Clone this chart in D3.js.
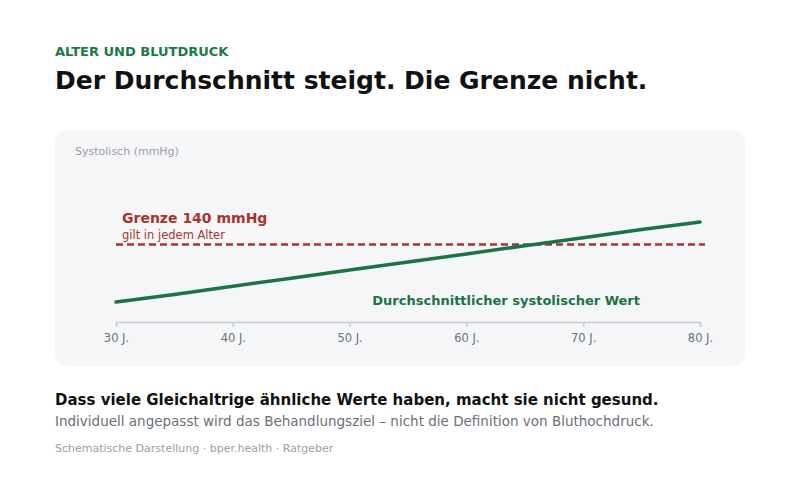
<!DOCTYPE html>
<html>
<head>
<meta charset="utf-8">
<script src="https://cdn.jsdelivr.net/npm/d3@7"></script>
<style>
  body { margin: 0; background: #fff; }
  svg { font-family: "DejaVu Sans", sans-serif; }
</style>
</head>
<body>
<div id="chart"></div>
<script>
// ages (years) and average systolic pressure (mmHg)
const ages = [30, 35, 40, 45, 50, 55, 60, 65, 70, 75, 80];
const systolic = [117, 120, 123.3, 126.5, 129.8, 133, 136.2, 139.5, 142.7, 146, 149];
const tickAges = [30, 40, 50, 60, 70, 80];
const limit = 140;

const W = 800, H = 500;
const svg = d3.select("#chart").append("svg")
    .attr("width", W)
    .attr("height", H);

// header
svg.append("text").attr("x", 55).attr("y", 56)
    .attr("font-size", 13).attr("font-weight", "bold").attr("fill", "#1b7a4a")
    .text("ALTER UND BLUTDRUCK");
svg.append("text").attr("x", 55).attr("y", 89)
    .attr("font-size", 25).attr("font-weight", "bold").attr("fill", "#111")
    .text("Der Durchschnitt steigt. Die Grenze nicht.");

// card
svg.append("rect")
    .attr("x", 55).attr("y", 131).attr("width", 690).attr("height", 235)
    .attr("rx", 12).attr("fill", "#f5f6f8");

svg.append("text").attr("x", 75).attr("y", 155)
    .attr("font-size", 11).attr("fill", "#9a9ea6")
    .text("Systolisch (mmHg)");

const x = d3.scaleLinear().domain([30, 80]).range([116, 700]);
const y = d3.scaleLinear().domain([109, 173]).range([322, 162]);

// x axis
const axis = svg.append("g")
    .attr("transform", `translate(0,${y(109)})`)
    .call(d3.axisBottom(x).tickValues(tickAges).tickSize(5).tickPadding(7)
        .tickFormat(d => d + " J."));
axis.select(".domain").attr("stroke", "#c8ccd3").attr("stroke-width", 1.5);
axis.selectAll(".tick line").attr("stroke", "#c8ccd3").attr("stroke-width", 1.5);
axis.selectAll(".tick text")
    .attr("font-family", "DejaVu Sans, sans-serif")
    .attr("font-size", 11.5).attr("fill", "#6b7079");

// threshold
svg.append("line")
    .attr("x1", x(30)).attr("x2", x(80) + 5)
    .attr("y1", y(limit)).attr("y2", y(limit))
    .attr("stroke", "#a8332b").attr("stroke-width", 2.4)
    .attr("stroke-dasharray", "7,4");
svg.append("text").attr("x", 122).attr("y", y(limit) - 22)
    .attr("font-size", 14).attr("font-weight", "bold").attr("fill", "#a8332b")
    .text("Grenze " + limit + " mmHg");
svg.append("text").attr("x", 122).attr("y", y(limit) - 6)
    .attr("font-size", 11.5).attr("fill", "#a8332b")
    .text("gilt in jedem Alter");

// average line
const line = d3.line()
    .x((d, i) => x(ages[i]))
    .y(d => y(d));
svg.append("path")
    .datum(systolic)
    .attr("d", line)
    .attr("fill", "none")
    .attr("stroke", "#1b7346")
    .attr("stroke-width", 3.5)
    .attr("stroke-linecap", "round");
svg.append("text").attr("x", 640).attr("y", 305)
    .attr("text-anchor", "end")
    .attr("font-size", 13).attr("font-weight", "bold").attr("fill", "#1b7346")
    .text("Durchschnittlicher systolischer Wert");

// bottom text
svg.append("text").attr("x", 55).attr("y", 405)
    .attr("font-size", 15).attr("font-weight", "bold").attr("fill", "#111")
    .text("Dass viele Gleichaltrige ähnliche Werte haben, macht sie nicht gesund.");
svg.append("text").attr("x", 55).attr("y", 426)
    .attr("font-size", 13.5).attr("fill", "#6b7079")
    .text("Individuell angepasst wird das Behandlungsziel – nicht die Definition von Bluthochdruck.");
svg.append("text").attr("x", 55).attr("y", 452)
    .attr("font-size", 11).attr("fill", "#9a9ea6")
    .text("Schematische Darstellung · bper.health · Ratgeber");
</script>
</body>
</html>
